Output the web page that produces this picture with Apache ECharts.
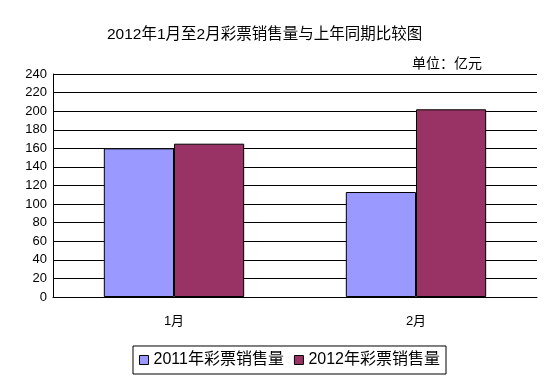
<!DOCTYPE html>
<html><head><meta charset="utf-8">
<script src="https://cdn.jsdelivr.net/npm/echarts@6/dist/echarts.min.js"></script>
<style>html,body{margin:0;padding:0;background:#fff}#c{width:554px;height:384px}</style>
</head><body><div id="c"></div>
<script>
const categories = ['1月', '2月'];
const series2011 = [160, 113];
const series2012 = [165, 202];
const seriesNames = ['2011年彩票销售量', '2012年彩票销售量'];
const yTicks = [0, 240, 20];

const font = "'Liberation Sans', 'Noto Sans CJK SC', sans-serif";
const chart = echarts.init(document.getElementById('c'));
chart.setOption({
  animation: false,
  backgroundColor: '#fff',
  title: [
    {text: '2012年1月至2月彩票销售量与上年同期比较图', left: 102, top: 22,
     textStyle: {fontFamily: font, fontSize: 15.5, fontWeight: 'normal', color: '#000'}},
    {text: '单位：亿元', right: 67, top: 52,
     textStyle: {fontFamily: font, fontSize: 14, fontWeight: 'normal', color: '#000'}}
  ],
  legend: {
    bottom: 10, left: 133, itemWidth: 9, itemHeight: 9, itemGap: 10,
    borderColor: '#000', borderWidth: 1, padding: [6, 6, 6, 6],
    textStyle: {fontFamily: font, fontSize: 16, color: '#000'},
    icon: 'rect',
    data: seriesNames.map(n => ({name: n, itemStyle: {borderColor: '#000', borderWidth: 1}}))
  },
  grid: {left: 53, right: 17, top: 74, bottom: 87, containLabel: false},
  xAxis: {
    type: 'category', data: categories,
    axisLine: {lineStyle: {color: '#000'}},
    axisTick: {inside: true, length: 5, lineStyle: {color: '#000'}},
    axisLabel: {fontFamily: font, fontSize: 13, color: '#000', margin: 18}
  },
  yAxis: {
    type: 'value', min: yTicks[0], max: yTicks[1], interval: yTicks[2],
    axisLine: {show: true, lineStyle: {color: '#000'}},
    axisTick: {show: false},
    splitLine: {lineStyle: {color: '#000'}},
    axisLabel: {fontFamily: font, fontSize: 13, color: '#000', margin: 6}
  },
  series: [
    {name: seriesNames[0], type: 'bar', data: series2011, barGap: '0%', barCategoryGap: '42%',
     itemStyle: {color: '#9999FF', borderColor: '#000', borderWidth: 1}},
    {name: seriesNames[1], type: 'bar', data: series2012,
     itemStyle: {color: '#993366', borderColor: '#000', borderWidth: 1}}
  ]
});
</script></body></html>
